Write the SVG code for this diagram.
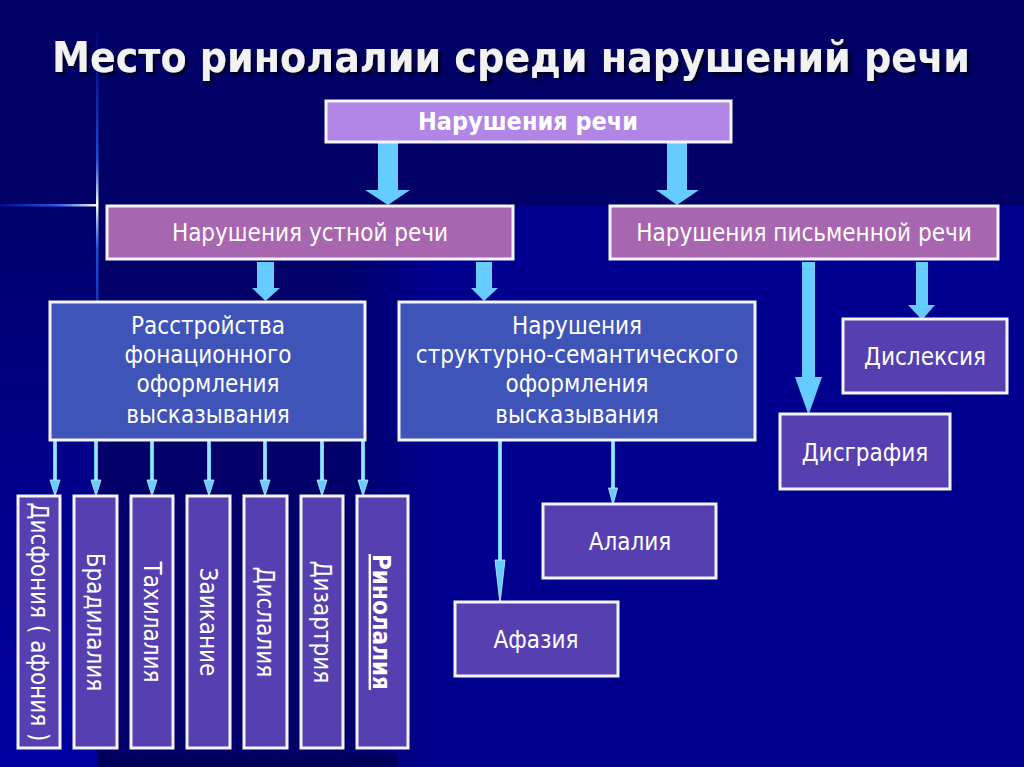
<svg xmlns="http://www.w3.org/2000/svg" width="1024" height="767" viewBox="0 0 1024 767">
<defs>
<style>
.t{font-family:"DejaVu Sans Condensed","DejaVu Sans",sans-serif;fill:#ffffff;}
.box{stroke:#f4f4f4;stroke-width:3;}
.top{fill:#b186e6;}
.l2{fill:#a866b0;}
.l3{fill:#3f54b9;}
.leaf{fill:#553fb1;}
.big{fill:#66ccff;}
.thin{stroke:#66ccff;stroke-width:4;fill:none;}
.core{stroke:#c9efff;stroke-width:1.2;fill:none;}
.head{fill:#66ccff;stroke:#c9efff;stroke-width:0.8;}
</style>
<filter id="shadow" x="-5%" y="-30%" width="110%" height="160%">
<feDropShadow dx="3" dy="3" stdDeviation="0.8" flood-color="#000000" flood-opacity="0.6"/>
</filter>
<linearGradient id="lowbg" x1="0" y1="0" x2="1024" y2="0" gradientUnits="userSpaceOnUse">
<stop offset="0" stop-color="#000068"/>
<stop offset="0.33" stop-color="#000068"/>
<stop offset="0.42" stop-color="#00008e"/>
<stop offset="1" stop-color="#000090"/>
</linearGradient>
<linearGradient id="leftbg" x1="0" y1="206" x2="0" y2="767" gradientUnits="userSpaceOnUse">
<stop offset="0" stop-color="#00006c"/>
<stop offset="0.45" stop-color="#00008a"/>
<stop offset="1" stop-color="#0000a2"/>
</linearGradient>
<linearGradient id="hline" x1="0" y1="0" x2="97" y2="0" gradientUnits="userSpaceOnUse">
<stop offset="0" stop-color="#1a4cff" stop-opacity="0.2"/>
<stop offset="0.6" stop-color="#2e6bff" stop-opacity="0.9"/>
<stop offset="1" stop-color="#ffffee"/>
</linearGradient>
<linearGradient id="vline" x1="0" y1="20" x2="0" y2="480" gradientUnits="userSpaceOnUse">
<stop offset="0" stop-color="#1a4cff" stop-opacity="0"/>
<stop offset="0.3" stop-color="#2e6bff" stop-opacity="0.7"/>
<stop offset="0.4" stop-color="#ffffee"/>
<stop offset="0.5" stop-color="#2e6bff" stop-opacity="0.7"/>
<stop offset="1" stop-color="#1a4cff" stop-opacity="0"/>
</linearGradient>
</defs>

<!-- background -->
<rect x="0" y="0" width="1024" height="767" fill="#000066"/>
<rect x="97" y="206" width="927" height="561" fill="url(#lowbg)"/>
<rect x="0" y="206" width="97" height="561" fill="url(#leftbg)"/>
<rect x="97" y="753" width="300" height="14" fill="#00005c"/>
<rect x="0" y="204" width="97" height="2.5" fill="url(#hline)"/>
<rect x="96" y="20" width="2.5" height="460" fill="url(#vline)"/>

<!-- title -->
<g id="title">
<text x="511" y="72" text-anchor="middle" font-size="43" font-weight="bold" class="t" style="fill:#f2f2f2" filter="url(#shadow)" textLength="918" lengthAdjust="spacingAndGlyphs">Место ринолалии среди нарушений речи</text>
</g>

<!-- connectors -->
<g id="connectors">
<polygon class="big" points="378,142 398,142 398,190 410,190 388,205 365,190 378,190"/>
<polygon class="big" points="667,142 687,142 687,190 699,190 677,205 656,190 667,190"/>
<polygon class="big" points="257,262 274,262 274,288 280,288 265.5,301 252,288 257,288"/>
<polygon class="big" points="476,262 492,262 492,288 498,288 484,301 471,288 476,288"/>
<polygon class="big" points="802,262 815,262 815,377 822,377 808.5,415 795,377 802,377"/>
<polygon class="big" points="916,262 928,262 928,305 935,305 922,320 908,305 916,305"/>
<g id="thin-arrows">
<path class="thin" d="M55,441V482M96,441V482M152,441V482M209,441V482M265,441V482M322,441V482M363,441V482M500,441V562M613,441V490"/>
<path class="core" d="M55,441V482M96,441V482M152,441V482M209,441V482M265,441V482M322,441V482M363,441V482M500,441V562M613,441V490"/>
<path class="head" d="M50,480L60,480L55,496ZM91,480L101,480L96,496ZM147,480L157,480L152,496ZM204,480L214,480L209,496ZM260,480L270,480L265,496ZM317,480L327,480L322,496ZM358,480L368,480L363,496ZM495,560L505,560L500,604ZM608.5,488L617.5,488L613,505Z"/>
</g>
</g>

<!-- nodes -->
<g id="n-speech">
<rect class="box top" x="326" y="101" width="405" height="41"/>
<text class="t" x="528" y="130" text-anchor="middle" font-size="25" font-weight="bold">Нарушения речи</text>
</g>
<g id="n-oral">
<rect class="box l2" x="107" y="206" width="406" height="53"/>
<text class="t" x="310" y="241" text-anchor="middle" font-size="24">Нарушения устной речи</text>
</g>
<g id="n-written">
<rect class="box l2" x="610" y="206" width="388" height="53"/>
<text class="t" x="804" y="241" text-anchor="middle" font-size="24">Нарушения письменной речи</text>
</g>
<g id="n-phon">
<rect class="box l3" x="50" y="302" width="315" height="138"/>
<text class="t" x="208" text-anchor="middle" font-size="24"><tspan x="208" y="334">Расстройства</tspan><tspan x="208" y="363">фонационного</tspan><tspan x="208" y="392">оформления</tspan><tspan x="208" y="423">высказывания</tspan></text>
</g>
<g id="n-struct">
<rect class="box l3" x="399" y="302" width="356" height="138"/>
<text class="t" x="577" text-anchor="middle" font-size="24"><tspan x="577" y="334">Нарушения</tspan><tspan x="577" y="363">структурно-семантического</tspan><tspan x="577" y="392">оформления</tspan><tspan x="577" y="423">высказывания</tspan></text>
</g>
<g id="n-dysphonia">
<rect class="box leaf" x="18" y="496" width="42" height="252"/>
<text class="t" transform="translate(31,622) rotate(90)" text-anchor="middle" font-size="24">Дисфония ( афония )</text>
</g>
<g id="n-bradilalia">
<rect class="box leaf" x="74" y="496" width="43" height="252"/>
<text class="t" transform="translate(87,622) rotate(90)" text-anchor="middle" font-size="24">Брадилалия</text>
</g>
<g id="n-tahilalia">
<rect class="box leaf" x="131" y="496" width="42" height="252"/>
<text class="t" transform="translate(144,622) rotate(90)" text-anchor="middle" font-size="24">Тахилалия</text>
</g>
<g id="n-zaikanie">
<rect class="box leaf" x="187" y="496" width="43" height="252"/>
<text class="t" transform="translate(200,622) rotate(90)" text-anchor="middle" font-size="24">Заикание</text>
</g>
<g id="n-dislalia">
<rect class="box leaf" x="244" y="496" width="43" height="252"/>
<text class="t" transform="translate(257,622) rotate(90)" text-anchor="middle" font-size="24">Дислалия</text>
</g>
<g id="n-dizartria">
<rect class="box leaf" x="301" y="496" width="42" height="252"/>
<text class="t" transform="translate(314,622) rotate(90)" text-anchor="middle" font-size="24">Дизартрия</text>
</g>
<g id="n-rinolalia">
<rect class="box leaf" x="357" y="496" width="51" height="252"/>
<text class="t" transform="translate(373,622) rotate(90)" text-anchor="middle" font-size="24" font-weight="bold" text-decoration="underline">Ринолалия</text>
</g>
<g id="n-alalia">
<rect class="box leaf" x="543" y="504" width="173" height="74"/>
<text class="t" x="630" y="550" text-anchor="middle" font-size="24">Алалия</text>
</g>
<g id="n-afazia">
<rect class="box leaf" x="455" y="602" width="163" height="74"/>
<text class="t" x="536" y="648" text-anchor="middle" font-size="24">Афазия</text>
</g>
<g id="n-dysgraphia">
<rect class="box leaf" x="780" y="414" width="170" height="75"/>
<text class="t" x="865" y="461" text-anchor="middle" font-size="24">Дисграфия</text>
</g>
<g id="n-dyslexia">
<rect class="box leaf" x="843" y="319" width="164" height="74"/>
<text class="t" x="925" y="365" text-anchor="middle" font-size="24">Дислексия</text>
</g>
</svg>
